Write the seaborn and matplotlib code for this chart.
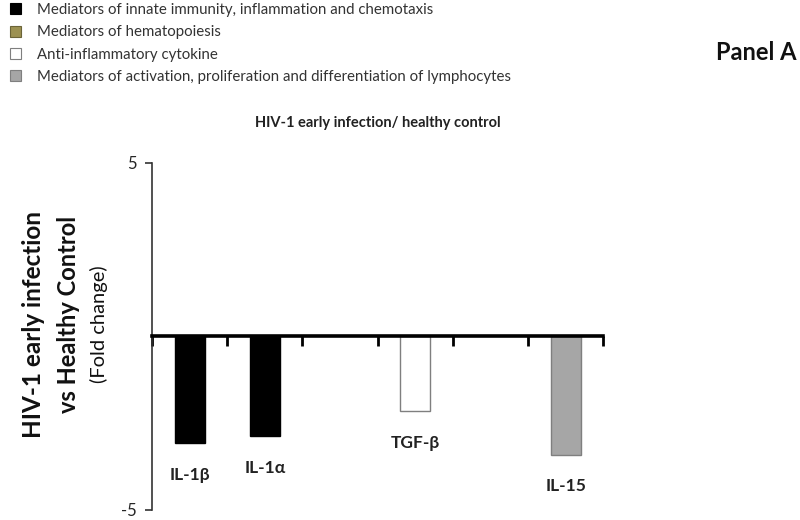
import numpy as np
import pandas as pd
import matplotlib.pyplot as plt
import seaborn as sns
from matplotlib.patches import Patch

# data
categories = ["IL-1β", "IL-1α", "gap1", "TGF-β", "gap2", "IL-15"]
fold_change = [-3.09, -2.89, np.nan, -2.17, np.nan, -3.43]
groups = ["innate", "innate", "none", "anti", "none", "lymph"]

legend_labels = [
    "Mediators of innate immunity, inflammation and chemotaxis",
    "Mediators of hematopoiesis",
    "Anti-inflammatory cytokine",
    "Mediators of activation, proliferation and differentiation of lymphocytes",
]
legend_colors = ["#000000", "#9c9152", "#ffffff", "#a6a6a6"]
legend_edges = ["#000000", "#6b6438", "#7f7f7f", "#7f7f7f"]

group_colors = {"innate": "#000000", "anti": "#ffffff", "lymph": "#a6a6a6", "none": "#ffffff"}
group_edges = {"innate": "#000000", "anti": "#7f7f7f", "lymph": "#7f7f7f", "none": "#ffffff"}

df = pd.DataFrame({"cytokine": categories, "fold": fold_change, "group": groups})

sns.set_style("white")
plt.rcParams["font.family"] = ["Lato", "DejaVu Sans"]

fig = plt.figure(figsize=(8, 5.2), dpi=100)
ax = fig.add_axes([0.19, 0.02, 0.564, 0.667])

sns.barplot(data=df, x="cytokine", y="fold", hue="group", order=categories,
            palette=group_colors, dodge=False, width=0.4, legend=False, ax=ax)

# per-bar edge colours
for patch in ax.patches:
    x = patch.get_x() + patch.get_width() / 2
    i = int(round(x))
    if 0 <= i < len(categories):
        patch.set_edgecolor(group_edges[groups[i]])
        patch.set_linewidth(1.0)

ax.set_ylim(-5, 5)
ax.set_xlim(-0.5, len(categories) - 0.5)
ax.set_yticks([-5, 5])
ax.set_yticklabels(["-5", "5"], fontsize=12)
ax.set_xticks(np.arange(-0.5, len(categories), 1.0))
ax.set_xticklabels([])
ax.set_xlabel("")
ax.set_ylabel("")

ax.spines["top"].set_visible(False)
ax.spines["right"].set_visible(False)
ax.spines["bottom"].set_position(("data", 0))
ax.spines["bottom"].set_linewidth(2.6)
ax.spines["bottom"].set_color("black")
ax.spines["left"].set_linewidth(1.2)
ax.spines["left"].set_color("#333333")
ax.tick_params(axis="x", direction="out", length=7, width=2, color="black", bottom=True)
ax.tick_params(axis="y", direction="out", length=5, width=1.2, color="#333333", left=True, pad=6)

# labels under bars
for i, (name, val) in enumerate(zip(categories, fold_change)):
    if np.isnan(val):
        continue
    ax.text(i, val - 0.9, name, ha="center", va="center", fontsize=12.5, fontweight="bold", color="#222222")

ax.set_title("HIV-1 early infection/ healthy control", fontsize=10.5, fontweight="bold", pad=26, color="#222222")

# y-axis label lines
fig.text(0.042, 1 - 325 / 520, "HIV-1 early infection", rotation=90, ha="center", va="center",
         fontsize=17.5, fontweight="bold", color="#111111")
fig.text(0.085, 1 - 314 / 520, "vs Healthy Control", rotation=90, ha="center", va="center",
         fontsize=17, fontweight="bold", color="#111111")
fig.text(0.124, 1 - 324 / 520, "(Fold change)", rotation=90, ha="center", va="center",
         fontsize=14.5, color="#111111")

fig.text(0.945, 1 - 53 / 520, "Panel A", ha="center", va="center", fontsize=17, fontweight="bold", color="#111111")

handles = [Patch(facecolor=c, edgecolor=e, linewidth=0.8) for c, e in zip(legend_colors, legend_edges)]
fig.legend(handles, legend_labels, loc="upper left", bbox_to_anchor=(-0.005, 1.02), frameon=False,
           fontsize=10.8, handlelength=0.75, handleheight=0.75, handletextpad=1.1, labelspacing=0.55,
           labelcolor="#333333")

fig.savefig("out.png", dpi=100)
